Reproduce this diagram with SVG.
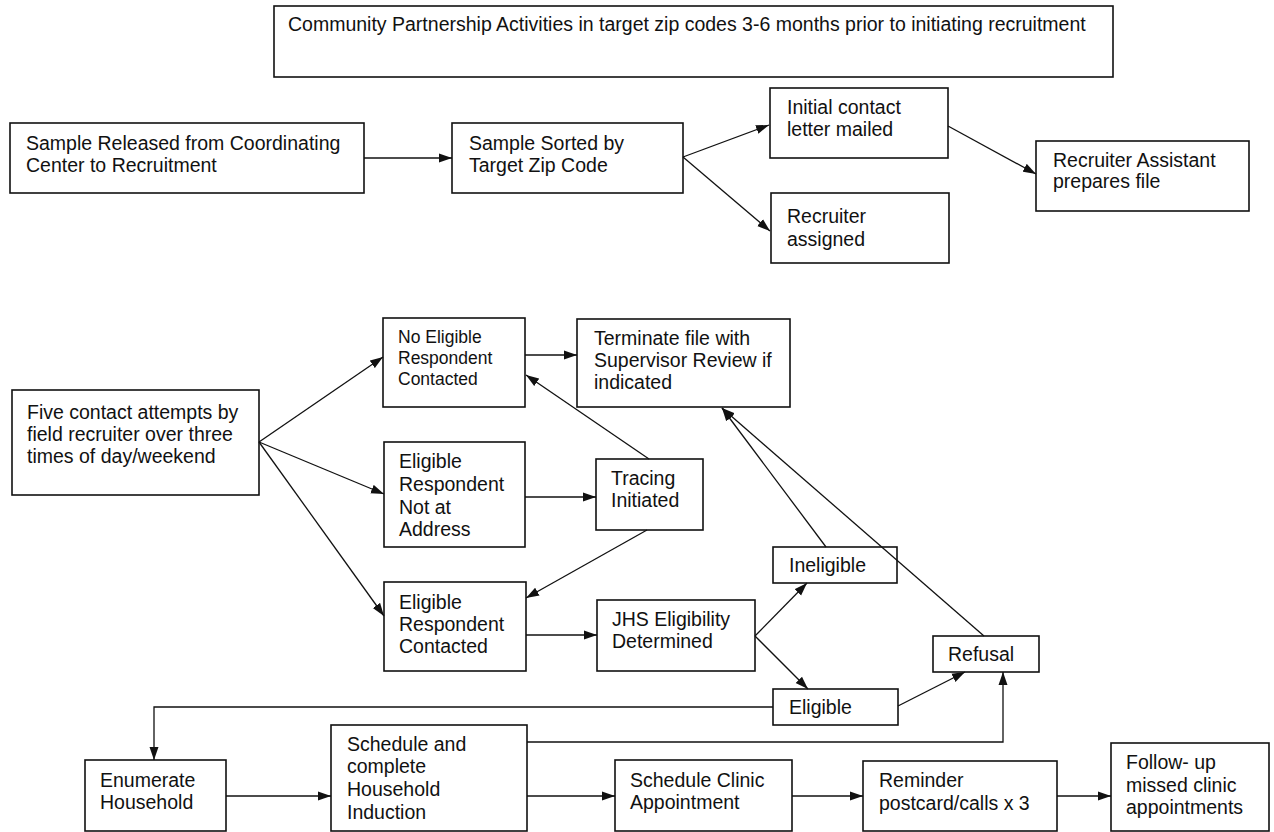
<svg xmlns="http://www.w3.org/2000/svg" width="1274" height="832" viewBox="0 0 1274 832">
<style>
.box{fill:#fff;stroke:#111;stroke-width:1.6}
.t{font-family:"Liberation Sans",Arial,sans-serif;font-size:19.5px;fill:#111}
.s{font-size:17.5px}
.c{fill:none;stroke:#111;stroke-width:1.3}
</style>
<defs>
<marker id="ah" markerUnits="userSpaceOnUse" markerWidth="14" markerHeight="10" refX="13" refY="5" orient="auto">
<path d="M0,0.5 L13,5 L0,9.5 z" fill="#111"/>
</marker>
</defs>
<rect width="1274" height="832" fill="#fff"/>
<g id="community"><rect class="box" x="274" y="6" width="839" height="71"/><text class="t" x="288" y="31">Community Partnership Activities in target zip codes 3-6 months prior to initiating recruitment</text></g>
<g id="released"><rect class="box" x="10" y="123" width="354" height="70"/><text class="t" x="26" y="150">Sample Released from Coordinating</text><text class="t" x="26" y="172">Center to Recruitment</text></g>
<g id="sorted"><rect class="box" x="452" y="123" width="231" height="70"/><text class="t" x="469" y="150">Sample Sorted by</text><text class="t" x="469" y="172">Target Zip Code</text></g>
<g id="letter"><rect class="box" x="770" y="88" width="178" height="70"/><text class="t" x="787" y="114">Initial contact</text><text class="t" x="787" y="136">letter mailed</text></g>
<g id="assigned"><rect class="box" x="771" y="193" width="178" height="70"/><text class="t" x="787" y="223">Recruiter</text><text class="t" x="787" y="246">assigned</text></g>
<g id="assistant"><rect class="box" x="1036" y="141" width="213" height="70"/><text class="t" x="1053" y="167">Recruiter Assistant</text><text class="t" x="1053" y="188">prepares file</text></g>
<g id="five"><rect class="box" x="12" y="390" width="247" height="105"/><text class="t" x="27" y="419">Five contact attempts by</text><text class="t" x="27" y="441">field recruiter over three</text><text class="t" x="27" y="463">times of day/weekend</text></g>
<g id="noeligible"><rect class="box" x="383" y="318" width="142" height="89"/><text class="t s" x="398" y="343">No Eligible</text><text class="t s" x="398" y="364">Respondent</text><text class="t s" x="398" y="385">Contacted</text></g>
<g id="terminate"><rect class="box" x="577" y="319" width="213" height="88"/><text class="t" x="594" y="345">Terminate file with</text><text class="t" x="594" y="367">Supervisor Review if</text><text class="t" x="594" y="389">indicated</text></g>
<g id="notataddress"><rect class="box" x="384" y="442" width="141" height="105"/><text class="t" x="399" y="468">Eligible</text><text class="t" x="399" y="491">Respondent</text><text class="t" x="399" y="514">Not at</text><text class="t" x="399" y="536">Address</text></g>
<g id="tracing"><rect class="box" x="596" y="459" width="107" height="71"/><text class="t" x="611" y="485">Tracing</text><text class="t" x="611" y="507">Initiated</text></g>
<g id="contacted"><rect class="box" x="384" y="582" width="142" height="89"/><text class="t" x="399" y="609">Eligible</text><text class="t" x="399" y="631">Respondent</text><text class="t" x="399" y="653">Contacted</text></g>
<g id="jhs"><rect class="box" x="597" y="600" width="158" height="71"/><text class="t" x="612" y="626">JHS Eligibility</text><text class="t" x="612" y="648">Determined</text></g>
<g id="ineligible"><rect class="box" x="773" y="547" width="124" height="36"/><text class="t" x="789" y="572">Ineligible</text></g>
<g id="eligible"><rect class="box" x="773" y="689" width="125" height="36"/><text class="t" x="789" y="714">Eligible</text></g>
<g id="refusal"><rect class="box" x="933" y="636" width="106" height="36"/><text class="t" x="948" y="661">Refusal</text></g>
<g id="enumerate"><rect class="box" x="85" y="760" width="141" height="71"/><text class="t" x="100" y="787">Enumerate</text><text class="t" x="100" y="809">Household</text></g>
<g id="induction"><rect class="box" x="331" y="725" width="196" height="106"/><text class="t" x="347" y="751">Schedule and</text><text class="t" x="347" y="773">complete</text><text class="t" x="347" y="796">Household</text><text class="t" x="347" y="819">Induction</text></g>
<g id="clinic"><rect class="box" x="615" y="760" width="177" height="71"/><text class="t" x="630" y="787">Schedule Clinic</text><text class="t" x="630" y="809">Appointment</text></g>
<g id="reminder"><rect class="box" x="863" y="761" width="194" height="70"/><text class="t" x="879" y="787">Reminder</text><text class="t" x="879" y="810">postcard/calls x 3</text></g>
<g id="followup"><rect class="box" x="1111" y="743" width="158" height="88"/><text class="t" x="1126" y="769">Follow- up</text><text class="t" x="1126" y="792">missed clinic</text><text class="t" x="1126" y="814">appointments</text></g>
<g id="connectors">
<line class="c" x1="364" y1="158" x2="452" y2="158" marker-end="url(#ah)"/>
<line class="c" x1="683" y1="157" x2="769" y2="125" marker-end="url(#ah)"/>
<line class="c" x1="683" y1="157" x2="770" y2="231" marker-end="url(#ah)"/>
<line class="c" x1="948" y1="126" x2="1036" y2="174" marker-end="url(#ah)"/>
<line class="c" x1="259" y1="442" x2="383" y2="357" marker-end="url(#ah)"/>
<line class="c" x1="259" y1="442" x2="384" y2="494" marker-end="url(#ah)"/>
<line class="c" x1="259" y1="442" x2="384" y2="616" marker-end="url(#ah)"/>
<line class="c" x1="525" y1="355" x2="577" y2="355" marker-end="url(#ah)"/>
<line class="c" x1="525" y1="497" x2="596" y2="497" marker-end="url(#ah)"/>
<line class="c" x1="649" y1="459" x2="526" y2="375" marker-end="url(#ah)"/>
<line class="c" x1="647" y1="530" x2="526" y2="598" marker-end="url(#ah)"/>
<line class="c" x1="526" y1="635" x2="597" y2="635" marker-end="url(#ah)"/>
<line class="c" x1="755" y1="636" x2="807" y2="583" marker-end="url(#ah)"/>
<line class="c" x1="755" y1="636" x2="808" y2="689" marker-end="url(#ah)"/>
<line class="c" x1="826" y1="547" x2="722" y2="408" marker-end="url(#ah)"/>
<line class="c" x1="984" y1="636" x2="722" y2="408" marker-end="url(#ah)"/>
<line class="c" x1="898" y1="706" x2="965" y2="672" marker-end="url(#ah)"/>
<polyline class="c" points="773,707 154,707 154,760" marker-end="url(#ah)"/>
<polyline class="c" points="527,742 1003,742 1003,672" marker-end="url(#ah)"/>
<line class="c" x1="226" y1="796" x2="331" y2="796" marker-end="url(#ah)"/>
<line class="c" x1="527" y1="796" x2="615" y2="796" marker-end="url(#ah)"/>
<line class="c" x1="792" y1="796" x2="863" y2="796" marker-end="url(#ah)"/>
<line class="c" x1="1057" y1="796" x2="1111" y2="796" marker-end="url(#ah)"/>
</g>
</svg>
